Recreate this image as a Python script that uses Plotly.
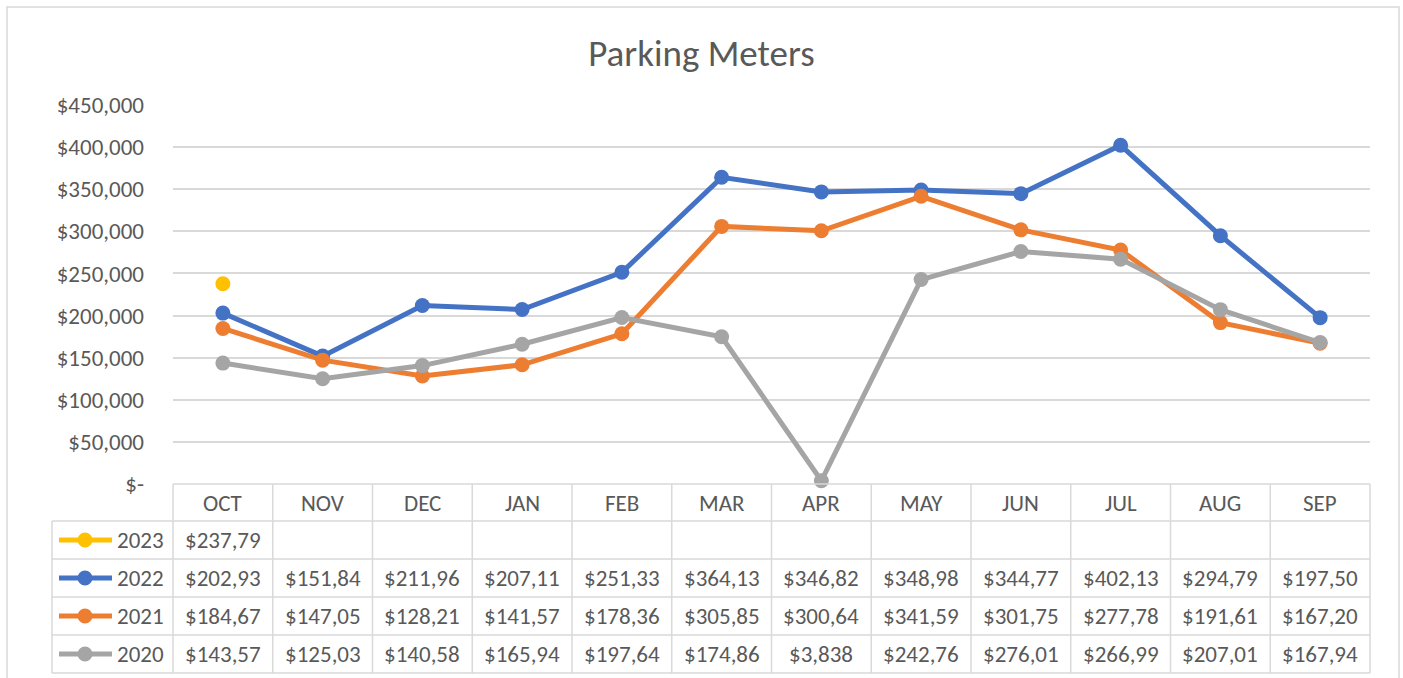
import plotly.graph_objects as go

months = ["OCT", "NOV", "DEC", "JAN", "FEB", "MAR", "APR", "MAY", "JUN", "JUL", "AUG", "SEP"]
years = ["2023", "2022", "2021", "2020"]
v2023 = [237790, None, None, None, None, None, None, None, None, None, None, None]
v2022 = [202930, 151840, 211960, 207110, 251330, 364130, 346820, 348980, 344770, 402130, 294790, 197500]
v2021 = [184670, 147050, 128210, 141570, 178360, 305850, 300640, 341590, 301750, 277780, 191610, 167200]
v2020 = [143570, 125030, 140580, 165940, 197640, 174860, 3838, 242760, 276010, 266990, 207010, 167940]
series = {"2023": v2023, "2022": v2022, "2021": v2021, "2020": v2020}
colors = {"2023": "#FFC000", "2022": "#4472C4", "2021": "#ED7D31", "2020": "#A5A5A5"}
y_tickvals = [0, 50000, 100000, 150000, 200000, 250000, 300000, 350000, 400000, 450000]
y_ticktext = ["$-", "$50,000", "$100,000", "$150,000", "$200,000", "$250,000",
              "$300,000", "$350,000", "$400,000", "$450,000"]

FONT = "Calibri, Carlito, Lato, sans-serif"
TXT = "#595959"
GRID = "#D9D9D9"
FS = 23

W, H = 1403, 678
PL, PR, PT, PB = 173, 1370, 105, 484


def pxx(x):
    return (x - PL) / (PR - PL)


def pxy(y):
    return (PB - y) / (PB - PT)


def cell_text(v):
    if v is None:
        return ""
    return ("$" + format(int(v), ",d"))[:7]


fig = go.Figure()
for yr in years:
    vals = series[yr]
    fig.add_trace(go.Scatter(
        x=months, y=vals, name=yr, mode="lines+markers",
        line=dict(color=colors[yr], width=5),
        marker=dict(color=colors[yr], size=15),
        cliponaxis=False, connectgaps=False,
    ))

shapes = []
annotations = []
line_style = dict(color=GRID, width=1.5)

# outer chart border
shapes.append(dict(type="rect", xref="paper", yref="paper",
                   x0=pxx(7), x1=pxx(1399), y0=pxy(700), y1=pxy(7),
                   line=dict(color=GRID, width=1.5), layer="below"))

# table geometry
row_lines = [PB, 521, 559, 597, 635, 673]
legend_left = 52
n = len(months)
shapes.append(dict(type="line", xref="paper", yref="paper", x0=0, x1=1,
                   y0=pxy(PB), y1=pxy(PB), line=line_style))
for yl in row_lines[1:]:
    shapes.append(dict(type="line", xref="paper", yref="paper", x0=pxx(legend_left), x1=1,
                       y0=pxy(yl), y1=pxy(yl), line=line_style))
for k in range(n + 1):
    shapes.append(dict(type="line", xref="paper", yref="paper", x0=k / n, x1=k / n,
                       y0=pxy(PB), y1=pxy(673), line=line_style))
shapes.append(dict(type="line", xref="paper", yref="paper", x0=pxx(legend_left), x1=pxx(legend_left),
                   y0=pxy(521), y1=pxy(673), line=line_style))

# header
head_y = (row_lines[0] + row_lines[1]) / 2
for m in months:
    annotations.append(dict(x=m, xref="x", y=pxy(head_y), yref="paper", text=m, showarrow=False,
                            font=dict(family=FONT, size=FS, color=TXT), xanchor="center", yanchor="middle"))

# rows
for r, yr in enumerate(years):
    yc = (row_lines[r + 1] + row_lines[r + 2]) / 2
    for m, v in zip(months, series[yr]):
        t = cell_text(v)
        if t:
            annotations.append(dict(x=m, xref="x", y=pxy(yc), yref="paper", text=t, showarrow=False,
                                    font=dict(family=FONT, size=FS, color=TXT),
                                    xanchor="center", yanchor="middle"))
    shapes.append(dict(type="line", xref="paper", yref="paper", x0=pxx(59), x1=pxx(112),
                       y0=pxy(yc), y1=pxy(yc), line=dict(color=colors[yr], width=5)))
    shapes.append(dict(type="circle", xref="paper", yref="paper", xsizemode="pixel", ysizemode="pixel",
                       xanchor=pxx(85), yanchor=pxy(yc), x0=-7.5, x1=7.5, y0=-7.5, y1=7.5,
                       fillcolor=colors[yr], line=dict(color=colors[yr], width=0)))
    annotations.append(dict(x=pxx(115), xref="paper", y=pxy(yc), yref="paper", text=yr, showarrow=False,
                            font=dict(family=FONT, size=FS, color=TXT), xanchor="left", yanchor="middle"))

fig.update_layout(
    width=W, height=H,
    margin=dict(l=PL, r=W - PR, t=PT, b=H - PB, pad=0),
    paper_bgcolor="white", plot_bgcolor="white",
    showlegend=False,
    title=dict(text="Parking Meters", x=0.5, xanchor="center", xref="container",
               y=1 - 53 / H, yref="container", yanchor="middle",
               font=dict(family=FONT, size=37, color=TXT)),
    xaxis=dict(type="category", categoryorder="array", categoryarray=months,
               range=[-0.5, n - 0.5], showgrid=False, showticklabels=False, ticks="",
               zeroline=False, showline=False, fixedrange=True),
    yaxis=dict(range=[0, 450000], tickvals=y_tickvals, ticktext=y_ticktext,
               showgrid=True, gridcolor=GRID, gridwidth=1.5, zeroline=False, showline=False,
               ticks="", ticklabelstandoff=28,
               tickfont=dict(family=FONT, size=FS, color=TXT), fixedrange=True),
    shapes=shapes,
    annotations=annotations,
)

fig.write_html("out.html", config={"displayModeBar": False},
               post_script="document.body.style.margin='0px';document.body.style.overflow='hidden';")
